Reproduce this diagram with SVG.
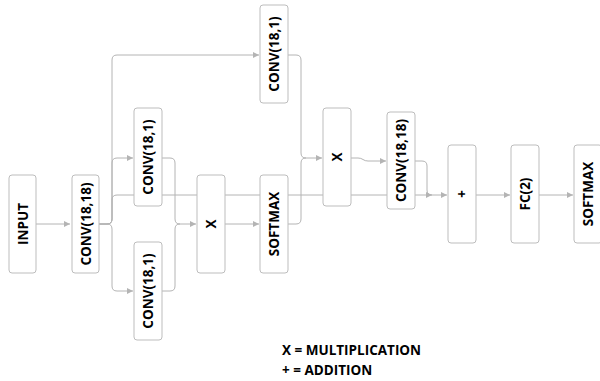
<svg xmlns="http://www.w3.org/2000/svg" width="600" height="381" viewBox="0 0 600 381">
<style>
.box{fill:#fff;stroke:#bdbdbd;stroke-width:1}
.lbl{font-family:"Open Sans","Liberation Sans",sans-serif;font-weight:bold;font-size:13.5px;fill:#000;text-anchor:middle;dominant-baseline:central}
.c{fill:none;stroke:#b4b4b4;stroke-width:1}
.a{marker-end:url(#arr)}
.leg{font-family:"Open Sans","Liberation Sans",sans-serif;font-weight:bold;font-size:13.5px;fill:#000}
</style>
<defs>
<marker id="arr" markerUnits="userSpaceOnUse" markerWidth="8" markerHeight="8" refX="6" refY="3" orient="auto">
<path d="M0,0 L6,3 L0,6 Z" fill="#b4b4b4"/>
</marker>
</defs>
<rect width="600" height="381" fill="#fff"/>
<g id="connectors">
<path class="c a" d="M36,224 H70"/>
<path class="c a" d="M99,224 H107 Q112,224 112,219 V60 Q112,55 117,55 H259"/>
<path class="c a" d="M99,224 H107 Q112,224 112,219 V163 Q112,158 117,158 H133"/>
<path class="c a" d="M99,224 H107 Q112,224 112,219 V200 Q112,195 117,195 H447"/>
<path class="c a" d="M99,224 H107 Q112,224 112,229 V286 Q112,291 117,291 H133"/>
<path class="c a" d="M162,158 H170 Q175,158 175,163 V219 Q175,224 180,224 H196"/>
<path class="c" d="M162,291 H170 Q175,291 175,286 V229 Q175,224 180,224"/>
<path class="c a" d="M225,224 H259"/>
<path class="c a" d="M288,55 H296 Q301,55 301,60 V153 Q301,158 306,158 H322"/>
<path class="c" d="M288,224 H296 Q301,224 301,219 V163 Q301,158 306,158"/>
<path class="c a" d="M351,158 H358 Q361,158 363,159.5 Q365,161 368,161 H386"/>
<path class="c a" d="M415,161 H422 Q427,161 427,166 V190 Q427,195 432,195"/>
<path class="c a" d="M476,195 H510"/>
<path class="c a" d="M539,195 H573"/>
</g>
<g id="input"><rect class="box" x="9" y="175" width="27" height="98" rx="3"/><text class="lbl" transform="translate(22.5,224) rotate(-90)">INPUT</text></g>
<g id="conv1"><rect class="box" x="72" y="175" width="27" height="98" rx="3"/><text class="lbl" transform="translate(85.5,224) rotate(-90)">CONV(18,18)</text></g>
<g id="conv_mid"><rect class="box" x="134" y="108" width="28" height="98" rx="3"/><text class="lbl" transform="translate(148,157) rotate(-90)">CONV(18,1)</text></g>
<g id="conv_bot"><rect class="box" x="134" y="242" width="28" height="98" rx="3"/><text class="lbl" transform="translate(148,291) rotate(-90)">CONV(18,1)</text></g>
<g id="mul1"><rect class="box" x="197" y="175" width="28" height="98" rx="3"/><text class="lbl" transform="translate(211,224) rotate(-90)">X</text></g>
<g id="softmax1"><rect class="box" x="260" y="175" width="28" height="98" rx="3"/><text class="lbl" transform="translate(274,224) rotate(-90)">SOFTMAX</text></g>
<g id="conv_top"><rect class="box" x="260" y="5" width="28" height="98" rx="3"/><text class="lbl" transform="translate(274,54) rotate(-90)">CONV(18,1)</text></g>
<g id="mul2"><rect class="box" x="323" y="108" width="28" height="98" rx="3"/><text class="lbl" transform="translate(337,157) rotate(-90)">X</text></g>
<g id="conv2"><rect class="box" x="387" y="112" width="28" height="97" rx="3"/><text class="lbl" transform="translate(401,160.5) rotate(-90)">CONV(18,18)</text></g>
<g id="add"><rect class="box" x="448" y="145" width="28" height="98" rx="3"/><text class="lbl" transform="translate(462,194) rotate(-90)">+</text></g>
<g id="fc"><rect class="box" x="511" y="145" width="28" height="98" rx="3"/><text class="lbl" transform="translate(525,194) rotate(-90)">FC(2)</text></g>
<g id="softmax2"><rect class="box" x="574" y="145" width="28" height="98" rx="3"/><text class="lbl" transform="translate(588,194) rotate(-90)">SOFTMAX</text></g>
<g id="legend">
<text class="leg" x="282" y="355">X = MULTIPLICATION</text>
<text class="leg" x="282" y="375">+ = ADDITION</text>
</g>
</svg>
